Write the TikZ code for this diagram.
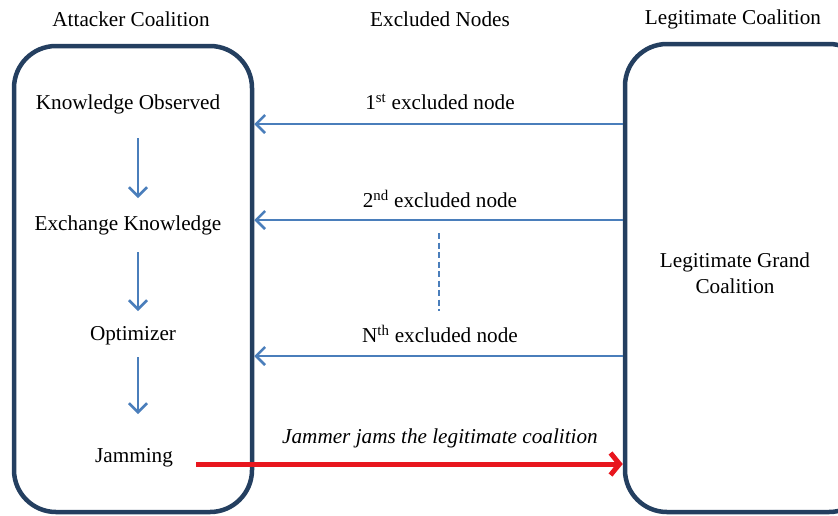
\documentclass[tikz,border=0pt]{standalone}
\usepackage{fontspec}
\setmainfont{Liberation Serif}
\usetikzlibrary{arrows.meta}
\definecolor{boxnavy}{RGB}{36,63,96}
\definecolor{flowblue}{RGB}{74,126,187}
\definecolor{jamred}{RGB}{232,22,30}
\tikzset{
  coalition/.style={draw=boxnavy, line width=4.5pt, rounded corners=42pt},
  lbl/.style={font=\fontsize{21.2}{25.5}\selectfont, align=center},
  flow/.style={draw=flowblue, line width=2.5pt, -{Straight Barb[length=9pt,width=18pt,line width=2.5pt]}},
  jam/.style={draw=jamred, line width=5pt, -{Straight Barb[length=9pt,width=22pt,line width=5pt]}}
}
\begin{document}
\begin{tikzpicture}[x=1pt,y=-1pt]
      \clip (0,0) rectangle (838,515);
      % the two coalitions
      \node[coalition, minimum width=238pt, minimum height=466pt] (attack) at (133,279) {};
      \node[coalition, minimum width=246pt, minimum height=468pt] (legit) at (748,278) {};
      % headings
      \draw
        (131,19) node[lbl] (h1){Attacker Coalition}
        (440,19) node[lbl] (h2){Excluded Nodes}
        (733,19) node[lbl] (h3){Legitimate Coalition};
      % steps inside the attacker coalition
      \draw
        (128,104) node[lbl] (know){Knowledge Observed}
        (128,225) node[lbl] (exch){Exchange Knowledge}
        (133,336) node[lbl] (opt){Optimizer}
        (134,458) node[lbl] (jamming){Jamming};
      \node[lbl] (grand) at (735,273) {Legitimate Grand\\Coalition};
      \coordinate (s1) at (138,138);
      \coordinate (s2) at (138,252);
      \coordinate (s3) at (138,357);
      \begin{scope}[flow]
        \draw (s1) -- (138,198);
        \draw (s2) -- (138,311);
        \draw (s3) -- (138,414);
      \end{scope}
      % excluded nodes
      \draw
        (440,102) node[lbl] (x1){1\textsuperscript{st} excluded node}
        (440,199) node[lbl] (x2){2\textsuperscript{nd} excluded node}
        (440,334) node[lbl] (xn){N\textsuperscript{th} excluded node};
      \coordinate (e1) at (440,124);
      \coordinate (e2) at (440,220);
      \coordinate (en) at (440,356);
      \begin{scope}[flow]
        \draw (legit.west |- e1) to (attack.east |- e1);
        \draw (legit.west |- e2) to (attack.east |- e2);
        \draw (legit.west |- en) to (attack.east |- en);
      \end{scope}
      \coordinate (d1) at (439,233);
      \coordinate (d2) at (439,311);
      \draw[flowblue, line width=2pt, dash pattern=on 6pt off 3.5pt] (d1) -- (d2);
      % jamming
      \node[lbl, font=\fontsize{21.2}{25.5}\selectfont\itshape] (jamtxt) at (440,438) {Jammer jams the legitimate coalition};
      \coordinate (j0) at (196,464);
      \draw[jam] (j0) -- (legit.west |- j0);
    \end{tikzpicture}
\end{document}
